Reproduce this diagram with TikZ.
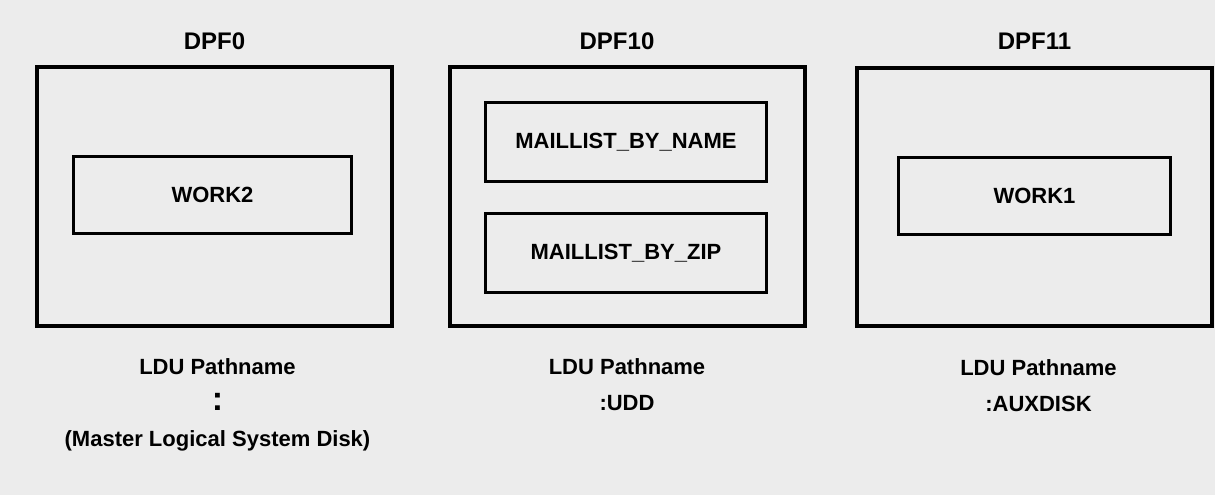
\documentclass[tikz,border=0pt]{standalone}
\usepackage{fontspec}
\setmainfont{Liberation Sans}
\usepackage{tikz}
\usetikzlibrary{positioning}
\definecolor{fondo}{RGB}{236,236,236}
\tikzset{
  disco/.style={rectangle,draw=black,line width=4pt,minimum width=355pt,minimum height=258pt,inner sep=0pt},
  archivo/.style={rectangle,draw=black,line width=3pt,minimum height=77pt,inner sep=0pt,
    font=\fontsize{22}{26}\selectfont\bfseries},
  titulo/.style={inner sep=0pt,font=\fontsize{24}{28}\selectfont\bfseries},
  ruta/.style={align=center,inner sep=0pt,font=\fontsize{22}{36}\selectfont\bfseries},
}

\begin{document}
\begin{tikzpicture}[x=1pt,y=-1pt,node distance=16pt]
    \fill[fondo] (0,0) rectangle (1215,495);
    \useasboundingbox (0,0) rectangle (1215,495);
    % discos
    \node[disco] (d0) at (214.5,196.5) {};
    \node[disco] (d10) at (627,196.5) {};
    \node[disco] (d11) at (1034.5,197) {};
    \node[titulo,above=of d0] (t0) {DPF0};
    \node[titulo,above=of d10,xshift=-10pt] (t10) {DPF10};
    \node[titulo,above=of d11] (t11) {DPF11};
    % archivos
    \node[archivo,minimum width=278pt] (w2) at (212.5,195) {WORK2};
    \node[archivo,minimum width=281pt,minimum height=79pt] (mn) at (626,142) {MAILLIST\_BY\_NAME};
    \node[archivo,minimum width=281pt,minimum height=79pt] (mz) at (626,253) {MAILLIST\_BY\_ZIP};
    \node[archivo,minimum width=272pt] (w1) at (1034.5,196) {WORK1};
    % rutas LDU
    \node[ruta,below=31pt of d0,xshift=3pt] (r0) {LDU Pathname\\{\fontsize{34}{36}\selectfont :}\\(Master Logical System Disk)};
    \node[ruta,below=31pt of d10] (r10) {LDU Pathname\\:UDD};
    \node[ruta,below=31pt of d11,xshift=4pt] (r11) {LDU Pathname\\:AUXDISK};
  \end{tikzpicture}
\end{document}
